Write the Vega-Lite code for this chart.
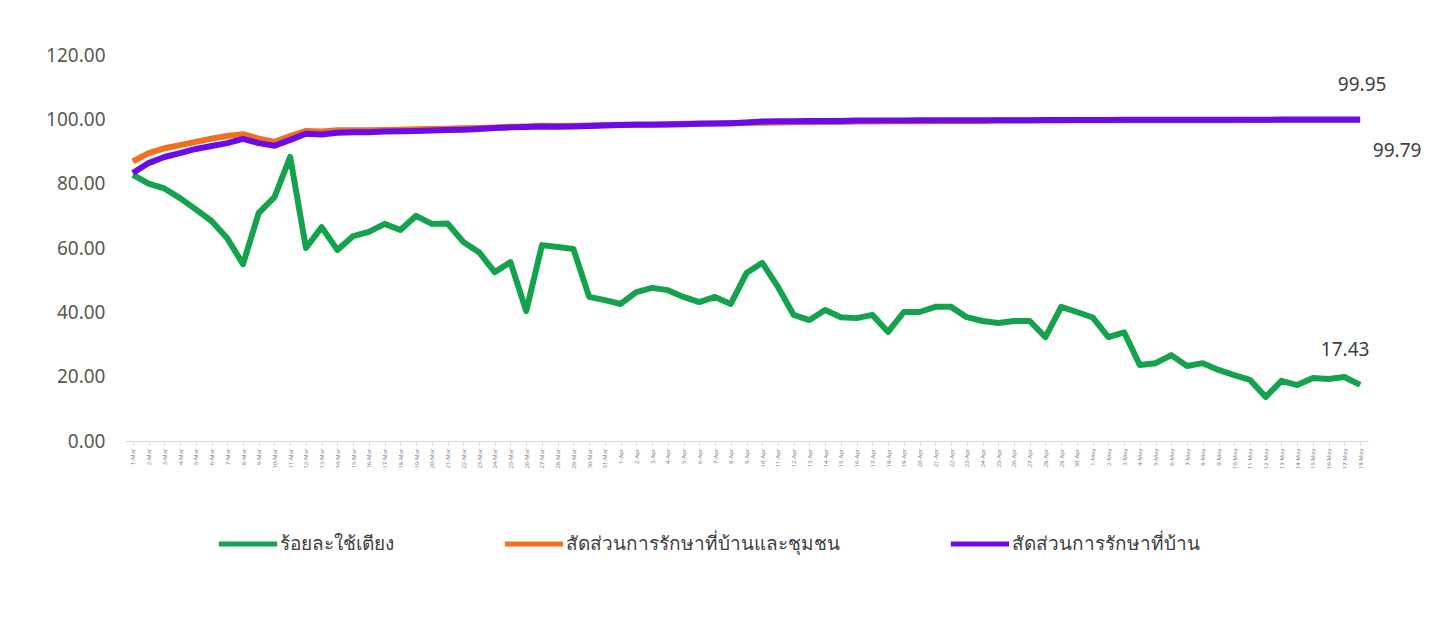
{
  "$schema": "https://vega.github.io/schema/vega-lite/v6.json",
  "autosize": {"type": "none"},
  "width": 1243,
  "height": 386,
  "padding": {"left": 125, "top": 55, "right": 72, "bottom": 177},
  "background": "white",
  "config": {"view": {"stroke": null}, "font": "Noto Sans"},
  "data": {"values": [
    {"date":"1-Mar","bed":82.7,"community":86.9,"home":83.3},
    {"date":"2-Mar","bed":80.0,"community":89.5,"home":86.4},
    {"date":"3-Mar","bed":78.5,"community":91.0,"home":88.3},
    {"date":"4-Mar","bed":75.5,"community":92.0,"home":89.5},
    {"date":"5-Mar","bed":72.0,"community":93.0,"home":90.8},
    {"date":"6-Mar","bed":68.4,"community":94.0,"home":91.7},
    {"date":"7-Mar","bed":63.0,"community":94.8,"home":92.6},
    {"date":"8-Mar","bed":55.0,"community":95.4,"home":93.9},
    {"date":"9-Mar","bed":70.9,"community":94.0,"home":92.6},
    {"date":"10-Mar","bed":75.8,"community":93.0,"home":91.8},
    {"date":"11-Mar","bed":88.3,"community":94.8,"home":93.6},
    {"date":"12-Mar","bed":60.0,"community":96.4,"home":95.5},
    {"date":"13-Mar","bed":66.5,"community":96.2,"home":95.3},
    {"date":"14-Mar","bed":59.4,"community":96.6,"home":95.8},
    {"date":"15-Mar","bed":63.7,"community":96.6,"home":96.0},
    {"date":"16-Mar","bed":65.0,"community":96.6,"home":96.0},
    {"date":"17-Mar","bed":67.5,"community":96.7,"home":96.2},
    {"date":"18-Mar","bed":65.6,"community":96.8,"home":96.3},
    {"date":"19-Mar","bed":70.0,"community":96.9,"home":96.4},
    {"date":"20-Mar","bed":67.5,"community":97.0,"home":96.5},
    {"date":"21-Mar","bed":67.6,"community":97.1,"home":96.7},
    {"date":"22-Mar","bed":61.9,"community":97.2,"home":96.8},
    {"date":"23-Mar","bed":58.7,"community":97.3,"home":97.0},
    {"date":"24-Mar","bed":52.5,"community":97.5,"home":97.3},
    {"date":"25-Mar","bed":55.6,"community":97.7,"home":97.5},
    {"date":"26-Mar","bed":40.4,"community":97.8,"home":97.6},
    {"date":"27-Mar","bed":60.9,"community":98.0,"home":97.8},
    {"date":"28-Mar","bed":60.3,"community":97.9,"home":97.7},
    {"date":"29-Mar","bed":59.7,"community":98.0,"home":97.8},
    {"date":"30-Mar","bed":44.8,"community":98.1,"home":97.9},
    {"date":"31-Mar","bed":43.8,"community":98.2,"home":98.1},
    {"date":"1-Apr","bed":42.6,"community":98.3,"home":98.2},
    {"date":"2-Apr","bed":46.3,"community":98.4,"home":98.3},
    {"date":"3-Apr","bed":47.6,"community":98.4,"home":98.3},
    {"date":"4-Apr","bed":46.9,"community":98.5,"home":98.4},
    {"date":"5-Apr","bed":44.8,"community":98.6,"home":98.5},
    {"date":"6-Apr","bed":43.2,"community":98.7,"home":98.6},
    {"date":"7-Apr","bed":44.8,"community":98.7,"home":98.7},
    {"date":"8-Apr","bed":42.6,"community":98.8,"home":98.8},
    {"date":"9-Apr","bed":52.2,"community":98.9,"home":99.0},
    {"date":"10-Apr","bed":55.4,"community":98.9,"home":99.3},
    {"date":"11-Apr","bed":47.9,"community":99.0,"home":99.4},
    {"date":"12-Apr","bed":39.2,"community":99.1,"home":99.4},
    {"date":"13-Apr","bed":37.6,"community":99.1,"home":99.5},
    {"date":"14-Apr","bed":40.7,"community":99.2,"home":99.5},
    {"date":"15-Apr","bed":38.5,"community":99.2,"home":99.5},
    {"date":"16-Apr","bed":38.2,"community":99.3,"home":99.6},
    {"date":"17-Apr","bed":39.2,"community":99.3,"home":99.6},
    {"date":"18-Apr","bed":33.9,"community":99.4,"home":99.6},
    {"date":"19-Apr","bed":40.1,"community":99.4,"home":99.6},
    {"date":"20-Apr","bed":40.1,"community":99.4,"home":99.7},
    {"date":"21-Apr","bed":41.7,"community":99.5,"home":99.7},
    {"date":"22-Apr","bed":41.7,"community":99.5,"home":99.7},
    {"date":"23-Apr","bed":38.5,"community":99.5,"home":99.7},
    {"date":"24-Apr","bed":37.3,"community":99.5,"home":99.7},
    {"date":"25-Apr","bed":36.7,"community":99.6,"home":99.75},
    {"date":"26-Apr","bed":37.3,"community":99.6,"home":99.75},
    {"date":"27-Apr","bed":37.3,"community":99.6,"home":99.75},
    {"date":"28-Apr","bed":32.3,"community":99.6,"home":99.8},
    {"date":"29-Apr","bed":41.7,"community":99.6,"home":99.8},
    {"date":"30-Apr","bed":40.1,"community":99.7,"home":99.8},
    {"date":"1-May","bed":38.4,"community":99.7,"home":99.8},
    {"date":"2-May","bed":32.3,"community":99.7,"home":99.8},
    {"date":"3-May","bed":33.8,"community":99.7,"home":99.85},
    {"date":"4-May","bed":23.6,"community":99.7,"home":99.85},
    {"date":"5-May","bed":24.2,"community":99.7,"home":99.85},
    {"date":"6-May","bed":26.7,"community":99.7,"home":99.85},
    {"date":"7-May","bed":23.3,"community":99.7,"home":99.85},
    {"date":"8-May","bed":24.2,"community":99.75,"home":99.9},
    {"date":"9-May","bed":22.1,"community":99.75,"home":99.9},
    {"date":"10-May","bed":20.5,"community":99.75,"home":99.9},
    {"date":"11-May","bed":19.0,"community":99.76,"home":99.9},
    {"date":"12-May","bed":13.7,"community":99.76,"home":99.9},
    {"date":"13-May","bed":18.7,"community":99.77,"home":99.92},
    {"date":"14-May","bed":17.4,"community":99.77,"home":99.92},
    {"date":"15-May","bed":19.6,"community":99.78,"home":99.93},
    {"date":"16-May","bed":19.3,"community":99.78,"home":99.94},
    {"date":"17-May","bed":19.9,"community":99.79,"home":99.95},
    {"date":"18-May","bed":17.43,"community":99.79,"home":99.95}
  ]},
  "transform": [{"fold": ["bed", "community", "home"], "as": ["series", "value"]}],
  "encoding": {
    "x": {
      "field": "date", "type": "ordinal", "sort": null,
      "scale": {"type": "point", "padding": 0.5},
      "axis": {"title": null, "labelAngle": -90, "labelFontSize": 6, "labelColor": "#7f7f7f",
               "labelOverlap": false, "domainColor": "#d9d9d9", "tickColor": "#d9d9d9", "tickSize": 4,
               "labelPadding": 3}
    },
    "y": {
      "field": "value", "type": "quantitative",
      "scale": {"domain": [0, 120], "nice": false},
      "axis": {"title": null, "values": [0, 20, 40, 60, 80, 100, 120], "format": ".2f",
               "grid": false, "domain": false, "ticks": false, "labelFontSize": 19,
               "labelColor": "#595959", "labelPadding": 20}
    }
  },
  "layer": [
    {
      "mark": {"type": "line", "strokeWidth": 6, "strokeJoin": "round"},
      "encoding": {
        "color": {
          "field": "series", "type": "nominal",
          "scale": {"domain": ["bed", "community", "home"], "range": ["#14A24C", "#F0701E", "#6C0BEA"]},
          "legend": {
            "title": null, "orient": "none", "direction": "horizontal",
            "legendX": 91, "legendY": 457,
            "symbolType": "stroke", "symbolStrokeWidth": 5, "symbolSize": 3400,
            "labelFontSize": 19, "labelColor": "#404040", "columnPadding": 100, "labelOffset": 0,
            "labelLimit": 500,
            "labelExpr": "datum.value == 'bed' ? 'ร้อยละใช้เตียง' : datum.value == 'community' ? 'สัดส่วนการรักษาที่บ้านและชุมชน' : 'สัดส่วนการรักษาที่บ้าน'"
          }
        }
      }
    },
    {
      "transform": [{"filter": "datum.date == '18-May' && datum.series == 'home'"}],
      "mark": {"type": "text", "fontSize": 19, "color": "#404040", "dy": -34, "dx": 2},
      "encoding": {"text": {"field": "value", "type": "quantitative", "format": ".2f"}}
    },
    {
      "transform": [{"filter": "datum.date == '18-May' && datum.series == 'community'"}],
      "mark": {"type": "text", "fontSize": 19, "color": "#404040", "dy": 31, "dx": 37},
      "encoding": {"text": {"field": "value", "type": "quantitative", "format": ".2f"}}
    },
    {
      "transform": [{"filter": "datum.date == '18-May' && datum.series == 'bed'"}],
      "mark": {"type": "text", "fontSize": 19, "color": "#404040", "dy": -35, "dx": -15},
      "encoding": {"text": {"field": "value", "type": "quantitative", "format": ".2f"}}
    }
  ]
}
